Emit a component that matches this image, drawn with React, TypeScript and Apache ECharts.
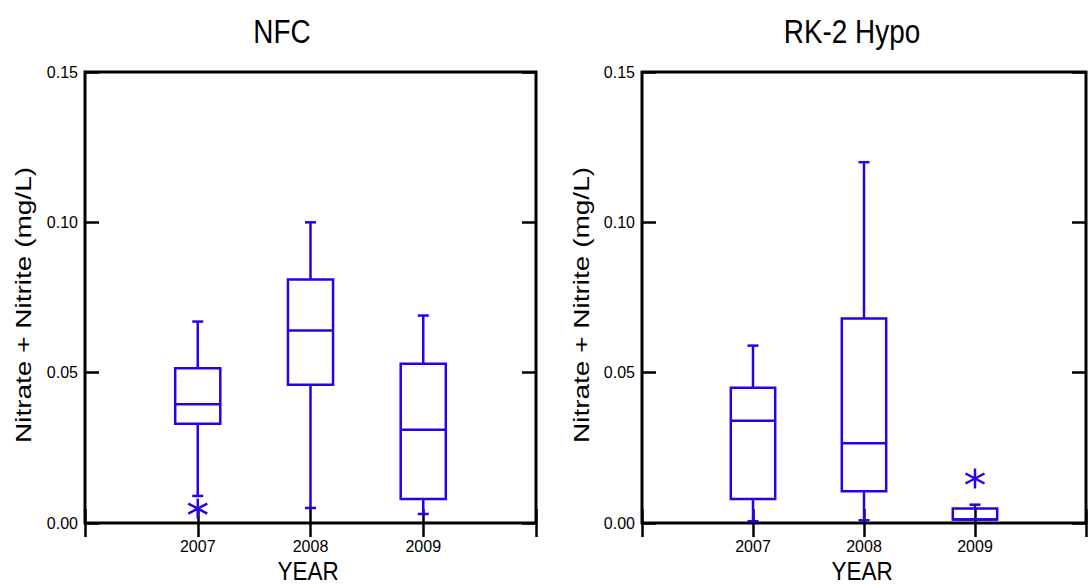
import React, { useEffect, useRef } from "react";
import * as echarts from "echarts";

// ---- data ----
const years = [2007, 2008, 2009];
const yTicks = [0, 0.05, 0.1, 0.15];

const nfcMin = [0.009, 0.005, 0.003];
const nfcQ1 = [0.033, 0.046, 0.008];
const nfcMedian = [0.0395, 0.064, 0.031];
const nfcQ3 = [0.0515, 0.081, 0.053];
const nfcMax = [0.067, 0.1, 0.069];
const nfcOutliers = [[2007, 0.0048]];

const rkMin = [0.0006, 0.0009, 0.0012];
const rkQ1 = [0.008, 0.0106, 0.0012];
const rkMedian = [0.034, 0.0265, 0.0012];
const rkQ3 = [0.045, 0.068, 0.0048];
const rkMax = [0.059, 0.12, 0.0061];
const rkOutliers = [[2009, 0.0148]];

const titles = ["NFC", "RK-2 Hypo"];
const xName = "YEAR";
const yName = "Nitrate + Nitrite (mg/L)";

// ---- styles ----
const BLUE = "#2a00e8";
const FONT = '"Liberation Sans", Arial, sans-serif';
const grids = [
  { left: 85, top: 72, width: 451, height: 451 },
  { left: 642, top: 72, width: 451, height: 451 },
];

function boxRows(mn: number[], q1: number[], md: number[], q3: number[], mx: number[]) {
  return years.map((y, i) => [y, mn[i], q1[i], md[i], q3[i], mx[i]]);
}

const renderBox = (params: any, api: any) => {
  const x = api.value(0);
  const lo = api.coord([x, api.value(1)]);
  const q1 = api.coord([x, api.value(2)]);
  const med = api.coord([x, api.value(3)]);
  const q3 = api.coord([x, api.value(4)]);
  const hi = api.coord([x, api.value(5)]);
  const half = api.size([0.2, 0])[0];
  const cap = 5.5;
  const cx = q1[0];
  const style = { stroke: BLUE, lineWidth: 2.5, fill: "none" };
  return {
    type: "group",
    children: [
      { type: "line", shape: { x1: cx, y1: q3[1], x2: cx, y2: hi[1] }, style },
      { type: "line", shape: { x1: cx - cap, y1: hi[1], x2: cx + cap, y2: hi[1] }, style },
      { type: "line", shape: { x1: cx, y1: q1[1], x2: cx, y2: lo[1] }, style },
      { type: "line", shape: { x1: cx - cap, y1: lo[1], x2: cx + cap, y2: lo[1] }, style },
      { type: "rect", shape: { x: cx - half, y: q3[1], width: 2 * half, height: q1[1] - q3[1] }, style },
      { type: "line", shape: { x1: cx - half, y1: med[1], x2: cx + half, y2: med[1] }, style },
    ],
  };
};

const renderStar = (params: any, api: any) => {
  const p = api.coord([api.value(0), api.value(1)]);
  const w = 9.5;
  const h = 10;
  const d = 5;
  const style = { stroke: BLUE, lineWidth: 2.5 };
  return {
    type: "group",
    children: [
      { type: "line", shape: { x1: p[0], y1: p[1] - h, x2: p[0], y2: p[1] + h }, style },
      { type: "line", shape: { x1: p[0] - w, y1: p[1] - d, x2: p[0] + w, y2: p[1] + d }, style },
      { type: "line", shape: { x1: p[0] - w, y1: p[1] + d, x2: p[0] + w, y2: p[1] - d }, style },
    ],
  };
};

function xAxes(gi: number) {
  const common = {
    gridIndex: gi,
    type: "value",
    min: 2006,
    max: 2010,
    interval: 1,
    axisLine: { show: false },
    splitLine: { show: false },
    axisTick: { show: true, inside: true, length: 14, lineStyle: { color: "#000", width: 2.5 } },
  };
  return [
    {
      ...common,
      position: "bottom",
      axisLabel: {
        fontSize: 16,
        fontFamily: FONT,
        color: "#000",
        margin: 15,
        formatter: (v: number) => (years.includes(v) ? String(v) : ""),
      },
    },
    { ...common, position: "top", axisLabel: { show: false } },
  ];
}

function yAxes(gi: number) {
  const common = {
    gridIndex: gi,
    type: "value",
    min: yTicks[0],
    max: yTicks[yTicks.length - 1],
    interval: 0.05,
    axisLine: { show: false },
    splitLine: { show: false },
    axisTick: { show: true, inside: true, length: 14, lineStyle: { color: "#000", width: 2.5 } },
  };
  return [
    {
      ...common,
      position: "left",
      axisLabel: {
        fontSize: 16,
        fontFamily: FONT,
        color: "#000",
        margin: 7,
        formatter: (v: number) => v.toFixed(2),
      },
    },
    { ...common, position: "right", axisLabel: { show: false } },
  ];
}

function textEl(
  text: string,
  x: number,
  y: number,
  size: number,
  rotation = 0,
  scaleX = 1,
  scaleY = 1
) {
  return {
    type: "text",
    x,
    y,
    rotation,
    scaleX,
    scaleY,
    style: {
      text,
      fill: "#000",
      font: `${size}px ${FONT}`,
      textAlign: "center",
      textVerticalAlign: "middle",
      align: "center",
      verticalAlign: "middle",
    },
  };
}

export default function App() {
  const ref = useRef<HTMLDivElement>(null);
  useEffect(() => {
    if (!ref.current) return;
    const chart = echarts.init(ref.current, undefined, { renderer: "svg" });
    const option: any = {
      animation: false,
      backgroundColor: "#fff",
      grid: grids.map((g) => ({
        ...g,
        show: true,
        borderColor: "#000",
        borderWidth: 3,
        backgroundColor: "transparent",
        containLabel: false,
      })),
      xAxis: [...xAxes(0), ...xAxes(1)],
      yAxis: [...yAxes(0), ...yAxes(1)],
      series: [
        {
          type: "custom",
          xAxisIndex: 0,
          yAxisIndex: 0,
          renderItem: renderBox,
          encode: { x: 0, y: [1, 2, 3, 4, 5] },
          data: boxRows(nfcMin, nfcQ1, nfcMedian, nfcQ3, nfcMax),
          z: 5,
        },
        {
          type: "custom",
          xAxisIndex: 0,
          yAxisIndex: 0,
          renderItem: renderStar,
          encode: { x: 0, y: 1 },
          data: nfcOutliers,
          z: 5,
        },
        {
          type: "custom",
          xAxisIndex: 2,
          yAxisIndex: 2,
          renderItem: renderBox,
          encode: { x: 0, y: [1, 2, 3, 4, 5] },
          data: boxRows(rkMin, rkQ1, rkMedian, rkQ3, rkMax),
          z: 5,
        },
        {
          type: "custom",
          xAxisIndex: 2,
          yAxisIndex: 2,
          renderItem: renderStar,
          encode: { x: 0, y: 1 },
          data: rkOutliers,
          z: 5,
        },
      ],
      graphic: [
        textEl(titles[0], 282, 32, 34, 0, 0.82, 1),
        textEl(titles[1], 852, 32, 34, 0, 0.82, 1),
        textEl(xName, 308, 571, 25, 0, 0.9, 1),
        textEl(xName, 862, 571, 25, 0, 0.9, 1),
        textEl(yName, 23, 305, 28, Math.PI / 2, 1, 0.8),
        textEl(yName, 581, 305, 28, Math.PI / 2, 1, 0.8),
      ],
    };
    chart.setOption(option);
    return () => chart.dispose();
  }, []);
  return (
    <div
      ref={ref}
      style={{ position: "absolute", left: 0, top: 0, width: 1089, height: 585 }}
    />
  );
}
